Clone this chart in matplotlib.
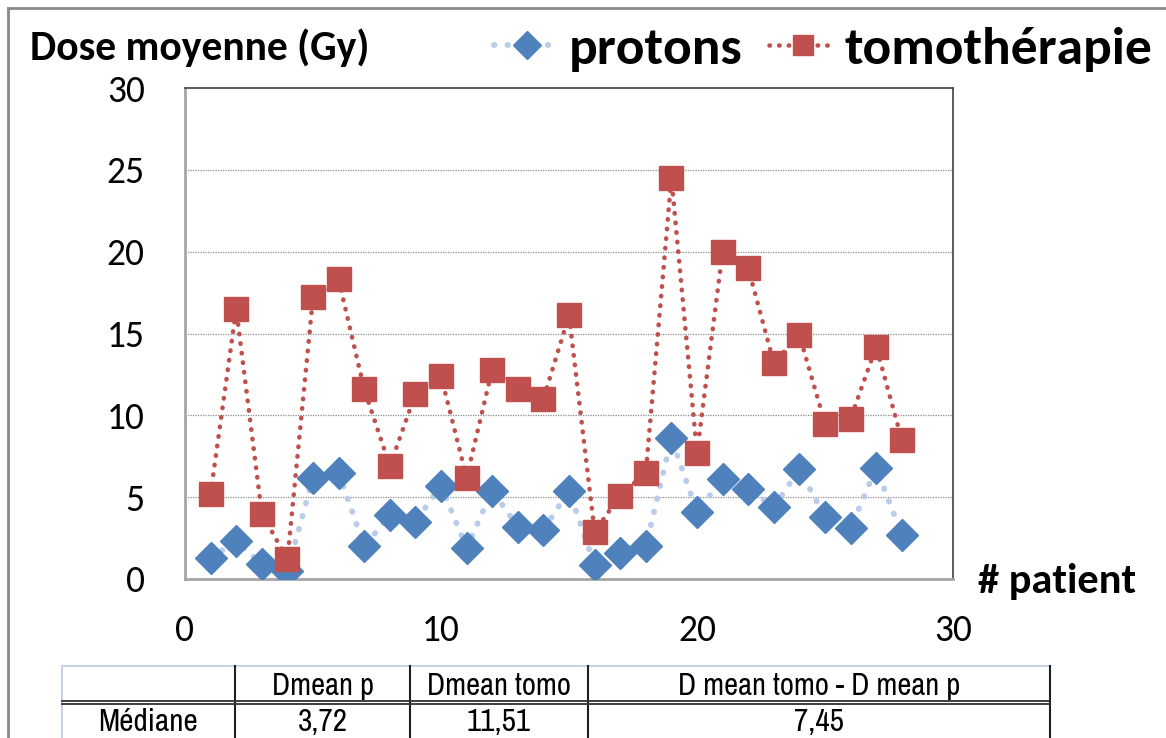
import numpy as np
import matplotlib.pyplot as plt
from matplotlib.lines import Line2D
from matplotlib import font_manager

# Dose moyenne (Gy) par patient
patients = list(range(1, 29))
dose_protons = [1.3, 2.3, 0.9, 0.5, 6.2, 6.5, 2.0, 3.9, 3.5, 5.7,
                1.9, 5.4, 3.2, 3.0, 5.4, 0.85, 1.6, 2.0, 8.6, 4.1,
                6.1, 5.5, 4.4, 6.7, 3.8, 3.1, 6.8, 2.7]
dose_tomo = [5.2, 16.5, 4.0, 1.2, 17.2, 18.3, 11.6, 6.9, 11.3, 12.4,
             6.2, 12.8, 11.6, 11.0, 16.1, 2.9, 5.1, 6.5, 24.5, 7.7,
             20.0, 19.0, 13.2, 14.9, 9.5, 9.8, 14.2, 8.5]

# tableau des médianes
entetes = ['', 'Dmean p', 'Dmean tomo', 'D mean tomo - D mean p']
mediane = ['Médiane', '3,72', '11,51', '7,45']

BLEU = '#4f81bd'
BLEU_CLAIR = '#b9cdea'
ROUGE = '#c0504d'

installees = {f.name for f in font_manager.fontManager.ttflist}


def police(*noms):
    return [n for n in noms if n in installees] + ['DejaVu Sans']


police_titre = police('Carlito', 'Lato')
police_tab = police('Liberation Sans Narrow', 'Arial Narrow', 'Archivo Narrow',
                    'PT Sans Narrow', 'Roboto Condensed', 'Liberation Sans')
plt.rcParams['font.family'] = police_titre

W, H = 1166, 738
fig = plt.figure(figsize=(W / 100, H / 100), dpi=100)


def fx(px):
    return px / W


def fy(py):
    return 1 - py / H


ax = fig.add_axes([fx(185), fy(579), fx(953) - fx(185), fy(88) - fy(579)])

ax.plot(patients, dose_protons, linestyle=(0, (0.1, 2.2)), dash_capstyle='round',
        color=BLEU_CLAIR, lw=4.2, marker='D', ms=16, mfc=BLEU, mec=BLEU, zorder=3)
ax.plot(patients, dose_tomo, linestyle=(0, (0.1, 2.0)), dash_capstyle='round',
        color=ROUGE, lw=3.3, marker='s', ms=17, mfc=ROUGE, mec=ROUGE, zorder=4)

ax.set_xlim(0, 30)
ax.set_ylim(0, 30)
ax.set_xticks([0, 10, 20, 30])
ax.set_yticks([0, 5, 10, 15, 20, 25, 30])
ax.tick_params(length=0, labelsize=27, colors='black')
ax.tick_params(axis='y', pad=29)
ax.tick_params(axis='x', pad=25)
for y in [5, 10, 15, 20, 25]:
    ax.axhline(y, color='#8c8c8c', lw=0.9, linestyle=(0, (1, 1)), zorder=1)

for cote in ['left', 'bottom']:
    ax.spines[cote].set_color('#a6a6a6')
    ax.spines[cote].set_linewidth(2)
for cote in ['top', 'right']:
    ax.spines[cote].set_color('#404040')
    ax.spines[cote].set_linewidth(1.2)

fig.text(fx(30), fy(48), 'Dose moyenne (Gy)', fontsize=30, fontweight='bold',
         ha='left', va='center')
fig.text(fx(978), fy(582), '# patient', fontsize=30.5, fontweight='bold',
         ha='left', va='center')

# légende
h_p = Line2D([], [], linestyle=(0, (0.1, 2.2)), dash_capstyle='round', color=BLEU_CLAIR,
             lw=4.2, marker='D', ms=14.5, mfc=BLEU, mec=BLEU)
h_t = Line2D([], [], linestyle=(0, (0.1, 2.0)), dash_capstyle='round', color=ROUGE,
             lw=3.3, marker='s', ms=14, mfc=ROUGE, mec=ROUGE)
fig.legend([h_p, h_t], ['protons', 'tomothérapie'], loc='center right',
           bbox_to_anchor=(fx(1152), fy(49)), ncol=2, frameon=False,
           prop={'size': 38.5, 'weight': 'bold'}, handlelength=1.25,
           handletextpad=0.15, columnspacing=0.5, borderaxespad=0, borderpad=0)

# cadre de la figure
fig.add_artist(Line2D([fx(8), fx(8)], [fy(8), 0], color='#8a8a8a', lw=2))
fig.add_artist(Line2D([fx(8), 1], [fy(8), fy(8)], color='#8a8a8a', lw=2))

# tableau
col_x = [62, 235, 410, 588, 1050]
y_haut, y_milieu = 666, 702
fig.add_artist(Line2D([fx(62), fx(1050)], [fy(y_haut), fy(y_haut)], color='#c8d2e6', lw=1.5))
fig.add_artist(Line2D([fx(62), fx(62)], [fy(y_haut), 0], color='#c8d2e6', lw=1.5))
for x in col_x[1:]:
    fig.add_artist(Line2D([fx(x), fx(x)], [fy(y_haut), 0], color='#202020', lw=1.5))
fig.add_artist(Line2D([fx(62), fx(1050)], [fy(y_milieu - 1), fy(y_milieu - 1)], color='#303030', lw=1.3))
fig.add_artist(Line2D([fx(62), fx(1050)], [fy(y_milieu + 1.5), fy(y_milieu + 1.5)], color='#303030', lw=1.3))

for i in range(4):
    xc = (col_x[i] + col_x[i + 1]) / 2
    fig.text(fx(xc), fy(686), entetes[i], fontsize=22, family=police_tab,
             ha='center', va='center')
    fig.text(fx(xc), fy(722), mediane[i], fontsize=22.5, family=police_tab,
             ha='center', va='center')

fig.savefig('out.png', dpi=100)
